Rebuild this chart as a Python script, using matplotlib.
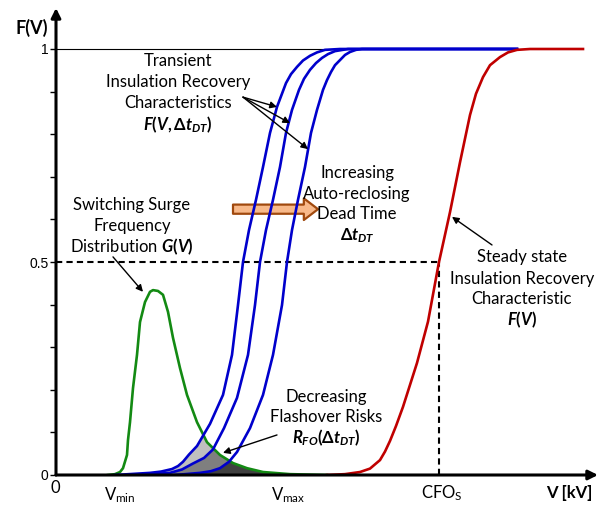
import matplotlib
matplotlib.use("Agg")
import matplotlib.pyplot as plt
from matplotlib.patches import Polygon
import numpy as np

# switching surge distribution G(V)
g_v = [52, 59, 64, 67, 71, 72, 74, 77, 81, 84, 89, 94, 97, 102, 107, 112, 117, 124, 131, 141, 151, 164, 177, 191, 207, 234, 271]
g_f = [0, 0.002, 0.007, 0.016, 0.047, 0.082, 0.124, 0.204, 0.282, 0.359, 0.406, 0.430, 0.434, 0.432, 0.423,
       0.383, 0.322, 0.251, 0.188, 0.124, 0.077, 0.047, 0.028, 0.016, 0.007, 0.002, 0]

# transient recovery characteristics, increasing dead time
b1_v = [59, 94, 105, 116, 122, 127, 133, 141, 154, 167, 176, 182, 187, 193, 200, 207, 214, 221, 230, 235,
        241, 247, 254, 261, 269, 284, 461]
b1_f = [0, 0.005, 0.008, 0.014, 0.021, 0.031, 0.048, 0.068, 0.120, 0.188, 0.282, 0.399, 0.5, 0.575, 0.646,
        0.723, 0.803, 0.864, 0.920, 0.941, 0.958, 0.973, 0.984, 0.992, 0.998, 1, 1]
b2_v = [84, 114, 126, 137, 148, 157, 168, 181, 192, 199, 204, 210, 217, 224, 230, 236, 243, 248, 254, 260,
        266, 272, 279, 292, 461]
b2_f = [0, 0.005, 0.013, 0.027, 0.040, 0.060, 0.110, 0.181, 0.282, 0.399, 0.5, 0.575, 0.646, 0.723, 0.803,
        0.857, 0.904, 0.930, 0.951, 0.967, 0.979, 0.988, 0.995, 1, 1]
b3_v = [119, 144, 155, 164, 173, 181, 194, 207, 217, 226, 231, 236, 242, 249, 255, 261, 267, 271, 275, 279,
        284, 289, 294, 300, 306, 461]
b3_f = [0, 0.005, 0.009, 0.016, 0.031, 0.054, 0.110, 0.188, 0.282, 0.399, 0.5, 0.575, 0.646, 0.723, 0.803,
        0.857, 0.904, 0.927, 0.946, 0.962, 0.974, 0.986, 0.993, 0.998, 1, 1]

# steady state characteristic
r_v = [271, 289, 304, 314, 324, 329, 334, 340, 347, 361, 372, 383, 394, 404, 414, 420, 427, 434, 444, 452,
       461, 474, 527]
r_f = [0, 0.002, 0.007, 0.015, 0.035, 0.055, 0.08, 0.115, 0.16, 0.263, 0.36, 0.5, 0.617, 0.734, 0.845, 0.895,
       0.934, 0.962, 0.981, 0.992, 0.998, 1, 1]

cfo_v = 383
v_min, v_max = 64, 232

plt.rcParams['font.family'] = ['Lato', 'DejaVu Sans']
plt.rcParams['mathtext.fontset'] = 'custom'
plt.rcParams['mathtext.it'] = 'Lato:italic:bold'
plt.rcParams['mathtext.rm'] = 'Lato:bold'
plt.rcParams['mathtext.bf'] = 'Lato:bold'
plt.rcParams['mathtext.fallback'] = 'stixsans'

fig = plt.figure(figsize=(6.03, 5.07), dpi=100)
ax = fig.add_axes([56 / 603, 32 / 507, 542 / 603, 467 / 507])
ax.set_xlim(0, 542)
ax.set_ylim(0, 467 / 426)
for s in ax.spines.values():
    s.set_visible(False)
ax.patch.set_visible(False)

# shaded flashover risk areas (blue curves clipped by G(V))
clip = Polygon(np.column_stack([g_v, g_f]), closed=True, transform=ax.transData)
for bv, bf, c in [(b1_v, b1_f, '#BFBFBF'), (b2_v, b2_f, '#7F7F7F'), (b3_v, b3_f, '#404040')]:
    fb = ax.fill_between(bv, 0, bf, color=c, lw=0, zorder=1)
    fb.set_clip_path(clip)

ax.plot([0, 270], [1, 1], color='k', lw=0.8, zorder=2)
ax.plot([0, cfo_v], [0.5, 0.5], color='k', lw=1.5, ls=(0, (3, 2)), zorder=2)
ax.plot([cfo_v, cfo_v], [0, 0.5], color='k', lw=1.5, ls=(0, (3, 2)), zorder=2)

ax.annotate('', xy=(262, 0.624), xytext=(177, 0.624),
            arrowprops=dict(arrowstyle='simple,head_length=0.85,head_width=1.3,tail_width=0.55',
                            fc='#F8B98A', ec='#A0490E', lw=1.6, mutation_scale=12, shrinkA=0, shrinkB=0),
            zorder=3)

ax.plot(g_v, g_f, color='#138A13', lw=1.9, zorder=4, solid_joinstyle='round')
for bv, bf in [(b1_v, b1_f), (b2_v, b2_f), (b3_v, b3_f)]:
    ax.plot(bv, bf, color='#0000CC', lw=1.9, zorder=4, solid_joinstyle='round')
ax.plot(r_v, r_f, color='#C00000', lw=1.9, zorder=5, solid_joinstyle='round')

# axes with arrows
ax.annotate('', xy=(542, 0), xytext=(0, 0), annotation_clip=False,
            arrowprops=dict(arrowstyle='-|>', lw=2.2, color='k', mutation_scale=14, shrinkA=0, shrinkB=0), zorder=6)
ax.annotate('', xy=(0, 467 / 426), xytext=(0, 0), annotation_clip=False,
            arrowprops=dict(arrowstyle='-|>', lw=2.2, color='k', mutation_scale=14, shrinkA=0, shrinkB=0), zorder=6)

yt = np.round(np.arange(0, 1.01, 0.1), 1)
ax.set_yticks(yt)
ax.set_yticklabels(['0' if v == 0 else '0.5' if v == 0.5 else '1' if v == 1 else '' for v in yt],
                   fontfamily='Liberation Sans', fontsize=10)
ax.tick_params(axis='y', direction='out', length=4, width=1, pad=1.5)
ax.set_xticks([])

fs = 12
ax.text(-24, 1.049, 'F(V)', fontsize=13, fontweight='bold', ha='center', va='center', clip_on=False)
ax.text(-1, -0.031, '0', fontsize=fs, ha='center', va='center', clip_on=False)
ax.text(v_min, -0.047, r'$\mathregular{V_{min}}$', fontsize=fs, ha='center', va='center', clip_on=False)
ax.text(v_max, -0.047, r'$\mathregular{V_{max}}$', fontsize=fs, ha='center', va='center', clip_on=False)
ax.text(cfo_v + 3, -0.042, r'$\mathregular{CFO_{S}}$', fontsize=fs, ha='center', va='center', clip_on=False)
ax.text(513, -0.042, 'V [kV]', fontsize=fs, fontweight='bold', ha='center', va='center', clip_on=False)


def block(x, ys, lines):
    for y, t in zip(ys, lines):
        ax.text(x, y, t, fontsize=fs, ha='center', va='center', zorder=7)


block(122, [0.972, 0.923, 0.873, 0.822],
      ['Transient', 'Insulation Recovery', 'Characteristics', r'$F(V,\mathit{\Delta} t_{DT})$'])
block(301, [0.709, 0.660, 0.613, 0.561],
      ['Increasing', 'Auto-reclosing', 'Dead Time', r'$\mathit{\Delta} t_{DT}$'])
block(76, [0.634, 0.585, 0.535],
      ['Switching Surge', 'Frequency', r'Distribution $G(V)$'])
block(270, [0.183, 0.136, 0.087],
      ['Decreasing', 'Flashover Risks', r'$R_{FO}(\mathit{\Delta} t_{DT})$'])
block(466, [0.512, 0.460, 0.413, 0.364],
      ['Steady state', 'Insulation Recovery', 'Characteristic', r'$F(V)$'])

arrow = dict(arrowstyle='-|>', lw=1, color='k', mutation_scale=10, shrinkA=0, shrinkB=0)
for head in [(221, 0.864), (234, 0.826), (252, 0.765)]:
    ax.annotate('', xy=head, xytext=(187, 0.887), arrowprops=arrow, zorder=7)
ax.annotate('', xy=(87, 0.430), xytext=(57, 0.512), arrowprops=arrow, zorder=7)
ax.annotate('', xy=(167, 0.052), xytext=(221, 0.094), arrowprops=arrow, zorder=7)
ax.annotate('', xy=(396, 0.606), xytext=(436, 0.540), arrowprops=arrow, zorder=7)

fig.savefig('out.png', dpi=100)
